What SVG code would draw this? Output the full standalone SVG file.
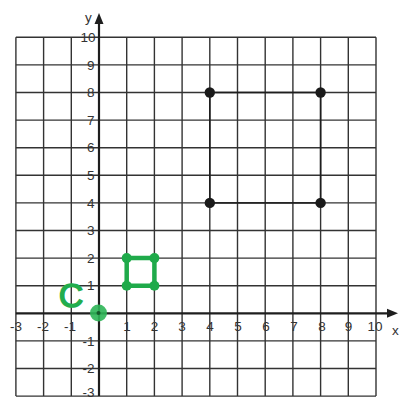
<svg xmlns="http://www.w3.org/2000/svg" width="399" height="400" viewBox="0 0 399 400">
<defs>
<style>
.grid line{stroke:#333;stroke-width:1.4}
.axis{stroke:#1e1e1e;stroke-width:2.2}
.lbl{font-family:"Liberation Sans",Arial,sans-serif;font-size:13.5px;fill:#333}
.xl{text-anchor:middle}
.yl{text-anchor:end}
.pt{fill:#1a1a1a}
.g{stroke:#1faa4a;stroke-width:4.5;fill:none;stroke-linecap:round;stroke-linejoin:round}
.gd{fill:#1faa4a}
</style>
</defs>
<rect width="399" height="400" fill="#fff"/>
<g id="grid" class="grid">
<line x1="15.9" y1="37.3" x2="15.9" y2="396.1"/>
<line x1="43.6" y1="37.3" x2="43.6" y2="396.1"/>
<line x1="71.3" y1="37.3" x2="71.3" y2="396.1"/>
<line x1="126.7" y1="37.3" x2="126.7" y2="396.1"/>
<line x1="154.4" y1="37.3" x2="154.4" y2="396.1"/>
<line x1="182.1" y1="37.3" x2="182.1" y2="396.1"/>
<line x1="209.8" y1="37.3" x2="209.8" y2="396.1"/>
<line x1="237.5" y1="37.3" x2="237.5" y2="396.1"/>
<line x1="265.2" y1="37.3" x2="265.2" y2="396.1"/>
<line x1="292.9" y1="37.3" x2="292.9" y2="396.1"/>
<line x1="320.6" y1="37.3" x2="320.6" y2="396.1"/>
<line x1="348.3" y1="37.3" x2="348.3" y2="396.1"/>
<line x1="376" y1="37.3" x2="376" y2="396.1"/>
<line x1="15.9" y1="37.3" x2="376" y2="37.3"/>
<line x1="15.9" y1="64.9" x2="376" y2="64.9"/>
<line x1="15.9" y1="92.5" x2="376" y2="92.5"/>
<line x1="15.9" y1="120.1" x2="376" y2="120.1"/>
<line x1="15.9" y1="147.7" x2="376" y2="147.7"/>
<line x1="15.9" y1="175.3" x2="376" y2="175.3"/>
<line x1="15.9" y1="202.9" x2="376" y2="202.9"/>
<line x1="15.9" y1="230.5" x2="376" y2="230.5"/>
<line x1="15.9" y1="258.1" x2="376" y2="258.1"/>
<line x1="15.9" y1="285.7" x2="376" y2="285.7"/>
<line x1="15.9" y1="340.9" x2="376" y2="340.9"/>
<line x1="15.9" y1="368.5" x2="376" y2="368.5"/>
<line x1="15.9" y1="396.1" x2="376" y2="396.1"/>
</g>
<g id="axes">
<line class="axis" x1="99" y1="396.1" x2="99" y2="22"/>
<polygon points="99,13 94.5,24 103.5,24" fill="#1e1e1e"/>
<line class="axis" x1="15.9" y1="313.3" x2="388" y2="313.3"/>
<polygon points="398,313.3 387,308.8 387,317.8" fill="#1e1e1e"/>
<text class="lbl" x="85" y="22">y</text>
<text class="lbl" x="392" y="335">x</text>
</g>
<g id="xlabels" class="lbl xl">
<text x="16" y="330.5">-3</text>
<text x="43" y="330.5">-2</text>
<text x="70" y="330.5">-1</text>
<text x="127" y="330.5">1</text>
<text x="154.5" y="330.5">2</text>
<text x="182" y="330.5">3</text>
<text x="210" y="330.5">4</text>
<text x="238" y="330.5">5</text>
<text x="266" y="330.5">6</text>
<text x="294" y="330.5">7</text>
<text x="322" y="330.5">8</text>
<text x="348.5" y="330.5">9</text>
<text x="375" y="330.5">10</text>
</g>
<g id="ylabels" class="lbl yl">
<text x="95.5" y="42">10</text>
<text x="94.5" y="69.6">9</text>
<text x="94.5" y="97.2">8</text>
<text x="94.5" y="124.8">7</text>
<text x="94.5" y="152.4">6</text>
<text x="94.5" y="180">5</text>
<text x="94.5" y="207.6">4</text>
<text x="94.5" y="235.2">3</text>
<text x="94.5" y="262.8">2</text>
<text x="94.5" y="290.4">1</text>
<text x="94.5" y="345.6">-1</text>
<text x="94.5" y="373.2">-2</text>
<text x="94.5" y="396.5">-3</text>
</g>
<g id="rectangle">
<rect x="209.8" y="92.5" width="110.8" height="110.4" fill="none" stroke="#1e1e1e" stroke-width="1.6"/>
<circle class="pt" cx="209.8" cy="92.5" r="5.2"/>
<circle class="pt" cx="320.6" cy="92.5" r="5.2"/>
<circle class="pt" cx="209.8" cy="202.9" r="5.2"/>
<circle class="pt" cx="320.6" cy="202.9" r="5.2"/>
</g>
<g id="green-square">
<polygon class="g" points="126.7,258.1 154.4,258.1 154.4,285.7 126.7,285.7"/>
<circle class="gd" cx="126.7" cy="258.1" r="5"/>
<circle class="gd" cx="154.4" cy="258.1" r="5"/>
<circle class="gd" cx="126.7" cy="285.7" r="5"/>
<circle class="gd" cx="154.4" cy="285.7" r="5"/>
</g>
<g id="origin-point">
<circle cx="98.5" cy="313" r="8.5" fill="#2db556" opacity="0.9"/>
<circle cx="98.5" cy="313" r="2" fill="#145a2a"/>
</g>
<g id="label-C">
<text x="71" y="307" text-anchor="middle" font-family="'Liberation Sans',Arial,sans-serif" font-size="34" fill="#22ad4d" stroke="#22ad4d" stroke-width="1.5">C</text>
</g>
</svg>
